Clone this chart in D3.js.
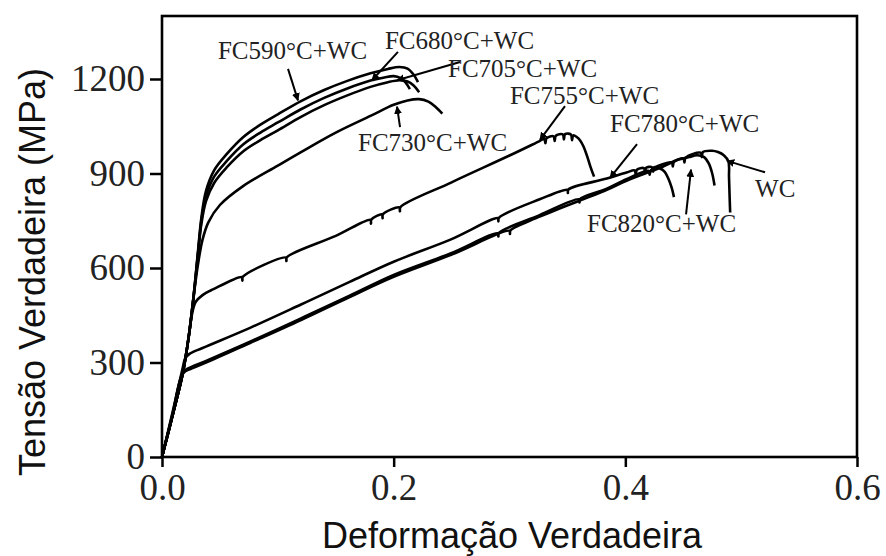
<!DOCTYPE html>
<html>
<head>
<meta charset="utf-8">
<script src="https://cdn.jsdelivr.net/npm/d3@7"></script>
<style>
  body { margin: 0; background: #fff; }
  svg { display: block; }
  .tick text { font-family: "Liberation Serif", "Times New Roman", serif; font-size: 37px; fill: #222; }
  .tick line { stroke: #000; stroke-width: 2.5; }
  .axis-title { font-family: "Liberation Sans", Arial, sans-serif; font-size: 36px; fill: #111; }
  .note { font-family: "Liberation Serif", "Times New Roman", serif; font-size: 25px; fill: #222; }
</style>
</head>
<body>
<svg></svg>
<script>
// true strain vs true stress (MPa)
const fc590 = [[0,0],[0.009,130],[0.018,267],[0.023,380],[0.027,500],[0.031,650],[0.034,760],[0.038,845],[0.045,910],[0.056,962],[0.07,1015],[0.085,1055],[0.1,1088],[0.12,1130],[0.14,1165],[0.16,1194],[0.18,1218],[0.195,1232],[0.205,1238],[0.212,1233],[0.217,1215],[0.221,1190]];
const fc680 = [[0,0],[0.009,130],[0.018,267],[0.023,380],[0.027,500],[0.031,645],[0.034,750],[0.038,828],[0.045,890],[0.056,940],[0.07,992],[0.085,1030],[0.1,1062],[0.12,1104],[0.14,1140],[0.16,1170],[0.18,1195],[0.192,1205],[0.2,1209],[0.206,1203],[0.21,1190],[0.214,1168]];
const fc705 = [[0,0],[0.009,130],[0.018,267],[0.023,380],[0.027,500],[0.031,640],[0.034,740],[0.038,812],[0.045,870],[0.056,920],[0.07,970],[0.085,1006],[0.1,1037],[0.12,1080],[0.14,1117],[0.16,1148],[0.18,1175],[0.195,1190],[0.205,1196],[0.212,1192],[0.217,1180],[0.222,1158]];
const fc730 = [[0,0],[0.009,130],[0.018,267],[0.023,380],[0.027,500],[0.031,610],[0.035,690],[0.04,745],[0.05,800],[0.07,860],[0.1,925],[0.12,968],[0.15,1030],[0.18,1083],[0.2,1118],[0.212,1132],[0.222,1136],[0.23,1128],[0.236,1112],[0.242,1090]];
const fc755 = [[0,0],[0.009,130],[0.018,267],[0.023,380],[0.026,455],[0.029,492],[0.035,514],[0.044,532],[0.069,571],[0.0694,560],[0.0698,572],[0.107,633],[0.1074,622],[0.1078,634],[0.15,702],[0.18,753],[0.1804,741],[0.1808,754],[0.19,770],[0.1904,758],[0.1908,771],[0.205,792],[0.2054,780],[0.2058,793],[0.25,872],[0.3,957],[0.326,1003],[0.33,1010],[0.331,996],[0.332,1012],[0.338,1018],[0.339,1003],[0.34,1020],[0.346,1024],[0.347,1008],[0.348,1025],[0.353,1024],[0.354,1006],[0.355,1021],[0.358,1016],[0.361,1005],[0.364,985],[0.367,955],[0.37,920],[0.373,890]];
const fc780 = [[0,0],[0.009,140],[0.018,285],[0.0199,312],[0.024,328],[0.035,346],[0.076,410],[0.12,484],[0.162,556],[0.2,620],[0.249,690],[0.29,758],[0.2904,748],[0.2908,759],[0.326,818],[0.35,848],[0.3504,838],[0.3508,849],[0.384,884],[0.401,903],[0.408,910],[0.409,897],[0.41,912],[0.416,917],[0.417,903],[0.418,918],[0.423,920],[0.424,906],[0.425,920],[0.43,916],[0.434,905],[0.437,885],[0.44,855],[0.442,825]];
const fc820 = [[0,0],[0.009,135],[0.0184,270],[0.025,285],[0.04,308],[0.076,366],[0.12,440],[0.162,512],[0.2,578],[0.249,646],[0.29,710],[0.2904,700],[0.2908,711],[0.326,768],[0.36,818],[0.3604,808],[0.3608,819],[0.384,852],[0.401,882],[0.42,908],[0.421,896],[0.422,910],[0.44,935],[0.441,922],[0.442,937],[0.455,952],[0.462,958],[0.468,952],[0.472,932],[0.475,900],[0.477,862]];
const wc = [[0,0],[0.009,130],[0.0184,266],[0.025,280],[0.04,303],[0.076,362],[0.12,435],[0.162,508],[0.2,572],[0.249,641],[0.3,718],[0.3004,708],[0.3008,719],[0.326,763],[0.384,848],[0.401,877],[0.43,918],[0.45,948],[0.451,935],[0.452,950],[0.465,966],[0.466,952],[0.467,968],[0.475,972],[0.48,968],[0.485,958],[0.489,938],[0.4895,890],[0.49,830],[0.4905,776]];

const series = [fc590, fc680, fc705, fc730, fc755, fc780, fc820, wc];

const xTicks = [0, 0.2, 0.4, 0.6];
const yTicks = [0, 300, 600, 900, 1200];

// label text, text anchor point, arrow start, arrow tip (data units)
const notes = [
  { text: "FC590°C+WC", at: [0.0483, 1264], from: [0.1088, 1232], to: [0.1174, 1132] },
  { text: "FC680°C+WC", at: [0.1925, 1295], from: [0.2037, 1286], to: [0.1813, 1196] },
  { text: "FC705°C+WC", at: [0.2469, 1206], from: [0.2573, 1254], to: [0.2029, 1196] },
  { text: "FC730°C+WC", at: [0.1692, 971], from: [0.2055, 1047], to: [0.2029, 1112] },
  { text: "FC755°C+WC", at: [0.3004, 1120], from: [0.3479, 1114], to: [0.3263, 1007] },
  { text: "FC780°C+WC", at: [0.3868, 1031], from: [0.4101, 993], to: [0.3868, 886] },
  { text: "WC", at: [0.512, 824], from: [0.5206, 904], to: [0.4878, 940] },
  { text: "FC820°C+WC", at: [0.3669, 713], from: [0.4524, 770], to: [0.4567, 912] },
];

const svg = d3.select("svg");
const width = 886;
const height = 556;
svg.attr("width", width).attr("height", height);

const margin = { left: 162, right: 29, top: 16, bottom: 99 };
const graphWidth = width - margin.left - margin.right;
const graphHeight = height - margin.top - margin.bottom;

const xScale = d3.scaleLinear().domain([0, 0.6]).range([0, graphWidth]);
const yScale = d3.scaleLinear().domain([0, 1400]).range([graphHeight, 0]);

svg.append("defs")
  .append("marker")
  .attr("id", "head")
  .attr("viewBox", "0 0 10 10")
  .attr("refX", 9)
  .attr("refY", 5)
  .attr("markerWidth", 4)
  .attr("markerHeight", 4)
  .attr("orient", "auto")
  .append("path")
  .attr("d", "M0,0 L10,5 L0,10 z")
  .attr("fill", "#000");

const g = svg.append("g").attr("transform", `translate(${margin.left}, ${margin.top})`);

const yAxis = d3.axisLeft(yScale).tickValues(yTicks).tickFormat(d3.format("d")).tickSize(12).tickPadding(5);
g.append("g").call(yAxis).selectAll(".domain").remove();

const xAxis = d3.axisBottom(xScale).tickValues(xTicks).tickFormat(d3.format(".1f")).tickSize(10).tickPadding(7);
g.append("g")
  .attr("transform", `translate(0, ${graphHeight})`)
  .call(xAxis)
  .selectAll(".domain")
  .remove();

g.append("rect")
  .attr("width", graphWidth)
  .attr("height", graphHeight)
  .attr("fill", "none")
  .attr("stroke", "#000")
  .attr("stroke-width", 2.6);

const line = d3.line()
  .x((d) => xScale(d[0]))
  .y((d) => yScale(d[1]))
  .curve(d3.curveCatmullRom.alpha(0.5));

g.selectAll(".curve")
  .data(series)
  .enter()
  .append("path")
  .attr("class", "curve")
  .attr("d", line)
  .attr("fill", "none")
  .attr("stroke", "#000")
  .attr("stroke-width", 2.6)
  .attr("stroke-linejoin", "round");

g.selectAll(".arrow")
  .data(notes)
  .enter()
  .append("line")
  .attr("class", "arrow")
  .attr("x1", (d) => xScale(d.from[0]))
  .attr("y1", (d) => yScale(d.from[1]))
  .attr("x2", (d) => xScale(d.to[0]))
  .attr("y2", (d) => yScale(d.to[1]))
  .attr("stroke", "#000")
  .attr("stroke-width", 2)
  .attr("marker-end", "url(#head)");

g.selectAll(".note")
  .data(notes)
  .enter()
  .append("text")
  .attr("class", "note")
  .attr("x", (d) => xScale(d.at[0]))
  .attr("y", (d) => yScale(d.at[1]))
  .text((d) => d.text);

svg.append("text")
  .attr("class", "axis-title")
  .attr("text-anchor", "middle")
  .attr("x", 512)
  .attr("y", 548)
  .text("Deformação Verdadeira");

svg.append("text")
  .attr("class", "axis-title")
  .attr("text-anchor", "middle")
  .attr("transform", "translate(45, 272) rotate(-90)")
  .text("Tensão Verdadeira (MPa)");
</script>
</body>
</html>
